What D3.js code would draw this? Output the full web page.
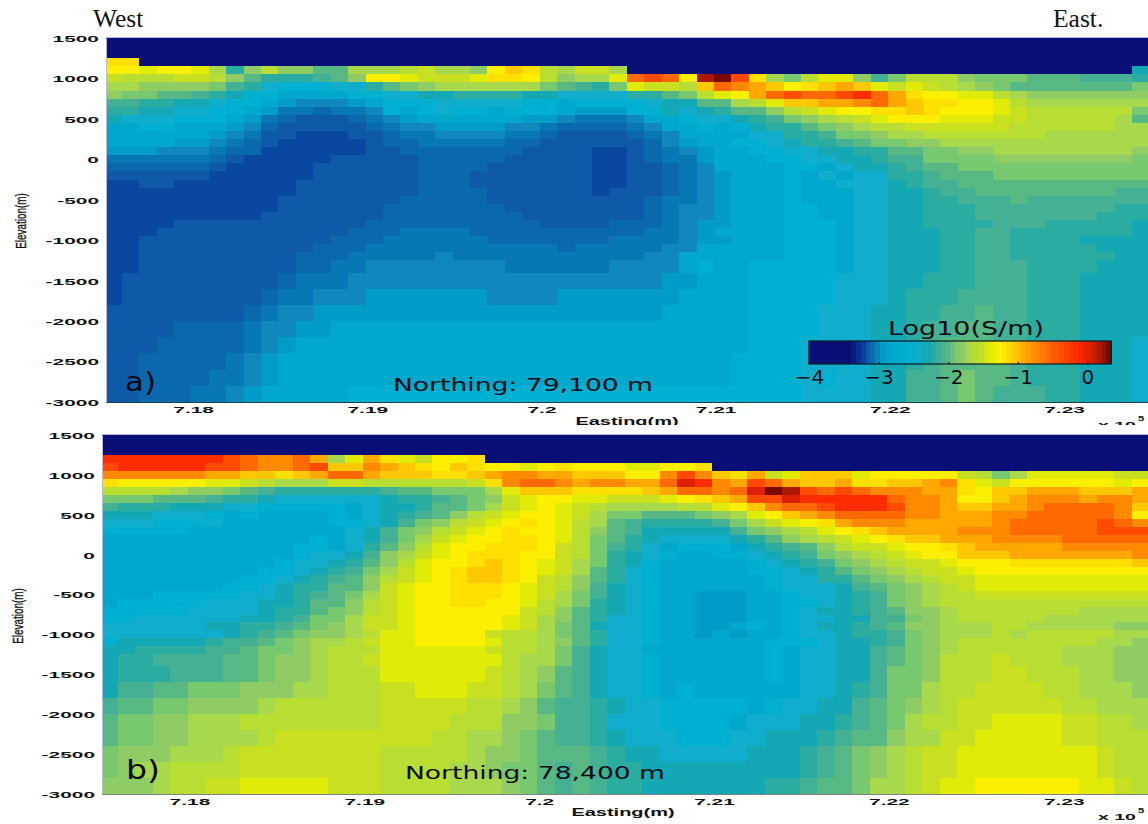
<!DOCTYPE html>
<html>
<head>
<meta charset="utf-8">
<script src="https://cdn.jsdelivr.net/npm/d3@7"></script>
<style>html,body{margin:0;padding:0;background:#fff}svg{display:block}</style>
</head>
<body>
<div id="chart"></div>
<script>
// log10 conductivity levels: one letter per level
const levelKeys = "ABCDEFGHIJKLMNOPQRSTUVWXYZabcde";
const levelValues = [-4,-3.2,-3.15,-3.1,-3.05,-3,-2.95,-2.85,-2.6,-2.45,-2.3,-2.2,-2.1,-2,-1.9,-1.8,-1.7,-1.6,-1.5,-1.4,-1.25,-1.15,-1.05,-0.9,-0.75,-0.55,-0.35,-0.15,0.05,0.18,0.3];
const levelColors = ["#0a0f78","#0848a0","#0e5aa8","#0a68ac","#0878b4","#1088bc","#009cc8","#00a8cc","#00b0d0","#10aecc","#14a8b4","#2aaca0","#44b094","#58b884","#78c870","#90cc64","#a8d84c","#b8de34","#c8e020","#e0ec08","#fcf000","#ffe000","#ffc800","#ffa800","#ff8a00","#ff6a00","#ff4a00","#ff2c00","#dc2000","#aa1800","#7a0a00"];

// model cell edges
const eastingEdges = [717500,717590,717690,717790,717890,717990,718090,718190,718290,718390,718490,718590,718690,718790,718890,718990,719090,719190,719290,719390,719490,719590,719690,719790,719890,719990,720090,720190,720290,720390,720490,720590,720690,720790,720890,720990,721090,721190,721290,721390,721490,721590,721690,721790,721890,721990,722090,722190,722290,722390,722490,722590,722690,722790,722890,722990,723090,723190,723290,723390,723482];
const elevationEdges = [1250,1150,1050,950,850,750,650,550,450,350,250,150,50,-50,-150,-250,-350,-450,-550,-650,-750,-850,-950,-1050,-1150,-1250,-1400,-1600,-1800,-2000,-2200,-2400,-2600,-2800,-3000];

const rowsA = [
"VVAAAAAAAA AAAAAAAAAA AAAAAAAAAA AAAAAAAAAA AAAAAAAAAA AAAAAAAAAA",
"UUTUUTQLPR PPNNQQQRSQ QPUWVRQSSQ AAAAAAAAAA AAAAAAAAAA AAAAAAAAAK",
"SRRRSSRPNL LLMNPUUTSS STVVURPQQT ZaZUdeaVQO RTTPMORRRP OOONNNMMML",
"QQPPPPOMLJ IIIJJLNOPQ QQQQQONMLO TSSRWZYXWU VWXWTSTSRQ PONNNNNNNO",
"POONNMLKII HHHHIIJJKK LLLLKKJJJJ LLNORTUXZa ZZabZXVUUT TRQPPPPPPP",
"MMLLKKJIIH GFFFGHIIIJ JJJJIIHIII IJKKNNQRTW WXXYZXWVVU UTRQQQQQQQ",
"LLKKJJIIHG EEDEEFIHIJ IIHIIIHGGG IIKJKLNNPR STUUVVWVUU UTSRRRRRRO",
"KJJJIIIHGE DCCCDEFGHH HHHHGGFEEE FHHIJJKLMO PQRSTUUUTT TSSRRRRRQN",
"HHIIHHHGFD CCCCCDEFFG GGGFFEDDDD EFHHIHIKLL NOPQRRSSSS SSRRRRRRQQ",
"HHHHHHGFEC CBBBCCDEEF FFFEEDCCCC DEFHHHHJJL LMOOPQQRRR RRRRQQQQQQ",
"HHHHGGFEDC BBBBBCDDEE EEEDDCCCCC CDFGHHIIJK LLMNOOPPQQ QQQQQQQQQQ",
"GGGFFFEDDB BBBBBCCDDD DDDDCCCCBB CDEFGHHIIJ JKKLLNNOOP PQQQQQQQQP",
"EEEEEEDCBB BBBCCCCCDD DDDCCCCCBB CDEEGHHHII JJKKLMMOOO OPPPPPPPPO",
"DDDDDDCBBB BBCCCCCCDD DDCCCCCCBB CCDEFHHHHI IHJKKLMNNO OOOOOOOOOO",
"CCCCCCBBBB BBCCCCCCDD DCCCCCCCBB CCDEFGHHHI HJHJJLLMNN NOOOOOOOOO",
"BBCCBBBBBB BCCCCCCCDD DCCCCCCCBB CCDEFGHHHI HHJJJKLMMN NNNNNNNNNN",
"BBBBBBBBBB BCCCCCCCDD DDCCCCCCBC CCDEFGHHHI HHHJJKKLMM NNNNNNNNMM",
"BBBBBBBBBB CCCCCCCDDD DDCCCCCCCC CDEEFGHHHI HHHJJKKLLM MMNMMMMMMM",
"BBBBBBBBBB CCCCCCDDDD DDDCCCCCCC CDEFFGHHHI IHHJJKKLLL MMMMMMMMLL",
"BBBBBBBBBC CCCCCCDDDD DDDDCCCCCC CDEFFGHHHI IHHJJKKLLL MMMMMMMLLL",
"BBBBCCCCCC CCCCCDDDDD DDDDDCCCCD DDEFGGHHHI IIHJJKKLLL LMMMLLLLLK",
"BBBCCCCCCC CCCCDDDEEE EDDDDDDDDD DEEFGHHHHI IIHJJKKKLL MMLLLLLLLK",
"BBCCCCCCCC CCCDDDEEEE EEDDDDDDDE EEEFGGHHHI IIHJJKKKLL MMLLLLKKKK",
"BBCCCCCCCC CCDDDEEEEE EEEEEEDEEE EEFFHHHHHI IIHJJKKKLL MMLLLLLKKK",
"BBCCCCCCCC CDDDEEEEEF EEEEEEEEEE EFFHHHHHHI IIHJJKKKLL MMLLLLLLKK",
"BBCCCCCCCC CDDEEFFFFF FFFEEEEEEF FFFHIHHIII IIHJJKKKLL MMMLLLLKKK",
"BCCCCCCCCC DEEEFFFFFF FFFFFFFFFF FFGGHHHIII IIJJJKKLLL MMMLLLKKKK",
"BCCCCCCCCD EEFFFGGGGG GGFFFFGGGG GGGHHHHIII IIJJJKLLLM MMMLLLKKKK",
"CCCCCCCCDE FFGGGGGGGG GGGGGGGGGG GGHHHHHIII IJJJKKLLMM NMMLLLKKKK",
"CCCCDDDDEF FGGHHHHHHH HHHHHHHHHH HHHHHHHIII IJJJKKLMMN NMMLLLKKKK",
"CCCDDDDDEF GHHHHHHHHH HHHHHHHHHH HHHHHHHIII JJJJKKLMNN NMMLLLKKKJ",
"CCDDDDDEFG HHHHHHHHHH HHHHHHHHHH HHHHHHIIII JJJJKKLMNN NNMLLLKKKJ",
"CCDDDDEEFG HHHHHHHHHH HHHHHHHHHH HHHHHHIIII JIJJKKMMNO NNMLLLKKKJ",
"CCDDDEEFGH HHHHIIIIII IIIIIIIIII IIIIIIIIII JJJJKKMMNO NMMMLLKKKJ"
];

const rowsB = [
"bbbbbbbaZY YZXQTXVTSU UVAAAAAAAA AAAAAAAAAA AAAAAAAAAA AAAAAAAAAA",
"abbbbbaaZY YZaWWYXWVU WVUUTUVUUU TTUUVAAAAA AAAAAAAAAA AAAAAAAAAA",
"YYYYYYXXWW VWXZZXWWWV VWXYYXXWWW UUYaYWVXST WWWTUUUUUS ROQTTTTTSS",
"VUUUUUTTSR QQQSSRRRRR RSVYZZYXYY XXZcbYXaZX WWXVVWWXYV TSUUUUUUTU",
"RRRRQPPONM LLLLLLMNNO OOQTWWWVVV VWXZZYZced aZaZYYYXXV UWWXXXWWWX",
"OOONNNMLLK JJJJJJKLLM NOPSTUUTTS SSTUVWXaac bbbbbZYYXU UWXYYYXYYX",
"MLLLKKKJJI IIIIHJKKLN NOQSTUTSRQ QQQRRTUWYZ ZabbbaYYXW WXXYZZZZYW",
"KKKJJJIHIH HHHIHJKLMN PRSTUUTSQO ONNNOPQTUW XYZZZZYYXX XYYZZZZZYU",
"JJJIIIJHHH HHHIIJKMOP RSTUVUTRQN MLLLLMOQST UVXYYYXXXX XYZZZZZaZY",
"IIIIIHHHHH HHHHJKMOPR STUVUUTRPN MKKKKKMOPQ RTUVWXXXXY YYZZZZZaaa",
"HHHHHHHHHH HHIHJKMOQS TUUVVUTRON LKJJJJKLNP QRSTUVWWXX XYYYYZZZZZ",
"HHHHHHHHHH HIIHJLNPRT UUVVVUSROM LJHIIIHKLM NPRSSTUUVW XXXXXYYYYY",
"HHHHHHHHHH HIJJKMPQST UVVVUUSROL KJIHHIIJKL MOPQRSTUUW WWXXXXXXXY",
"HHHHHHHHHH IJJKLNPRTU UVWVUTSQOL KIHHHHHIJK LMOPQRSSTU UUVVVVVVVW",
"HHHHHHHHHI IJKLMOQSTU VWWVUTSQNL JIHHHHHIIJ KLNOPQRSST UUUUUUUUUU",
"HHHHHHHHII JKLMNPRSTU VWWVUSRPNL JIHHHHHHIJ JLLNOPQRSS TTTTTTTTTT",
"HHHHHHHIIJ KLLNNPSTUU VVVUTSRPMK JIHHHHHHIJ JJKMNOPQRS TTTTTTTTTT",
"HHHIIIIIJJ KLMNOQSTUU VVVUTSQOMK JIHHGGGHHI JJKLMOPQRR SSSSSSSSSS",
"HIIIIIJJJK KLNNPRSTUU VVUUTRQOLK JIHHGGGHHI IJKLMOPQRR RRRRRRRRRR",
"IIIIIJJJJK LLNOPRSTUU UUUUSRPNLK JIHHGGGHHI JKKLMNPPQR RRRRRRQQQQ",
"IIJJJJJJKK LMOOQSSTUU UUUTSQPNLJ JIHHGGGHHI JJKKMMOPQR RRRRQQQQQQ",
"JJJJJJKKLL MNOPQSSTUU UUUTSQONKJ JIHHGGHIHI JKKLMNPPQQ QRRQQQQQPP",
"JJJJJJJKLM NOPPQRTTUU UUSRRQONLJ JIHHGHGHHI JJKLLMOPQQ QRQRRRRRQQ",
"IKKKKKLMMN OPQQRSTTUU UUTRRQPNLJ JIHHHHHHII IJKKLMOPQR RRRRRRRQQP",
"KKLLLLMMNO OPQRRRTTTT TTSRRQOMKJ JHHHHHHHIH JJKKMNOPQR RRRRRQQQPP",
"KLLMMMMNNO PPQRRSTTTT TTTRQQOMKJ JIHHHHHHIH JJKKMNOPRR RSRRRQQQPP",
"KLLLMMMNNO PPQRRRTTTT TTSRQPNMKJ JIHHHHHHIH JJKKMOOPRR RSSRRRQQPP",
"KMMNNOOOPP PQQRRRSSTT TSSRQONMKJ JIHIHHHHHH JJKLMOOQRR SSSSRRQQQP",
"MNNOOPPPPQ RRRRRRSSSS SRRQPNMMLK JJIIIIIHIJ JKKMNOPQRS SSSSSRRQQQ",
"NOOPPQQQRR RRRRRRSSSS RRRPPOMMLJ JJIIIIHJJJ KKLMNOQRRS STTTTSSRRQ",
"NOOPPQQQQR SSSSSSSSSR RQQPONMMLK JJJIIIJJKK KLMNNPQQSS TTTTTSSRRR",
"OPPPQQQRSS SSSSSSRRRR RQPPONNNML KKJJJJJKKK LMNOPQRSST TTTTTTTSRR",
"OPQQRRRRSS SSSSSSRRRR QQPOONMNML LKKKKKKKKK LMNOPQRSST TTTTTTTSRR",
"PPPQRRSSTT TTTSSSRRRR QQQPONMNML LKKKKKKKLL MNNOQQRSTT UUUUUUTTSR"
];

const eastingTicks = [718000,719000,720000,721000,722000,723000];
const elevationTicks = [1500,1000,500,0,-500,-1000,-1500,-2000,-2500,-3000];
const colorbarTicks = [-4,-3,-2,-1,0];
const northingA = "Northing: 79,100 m";
const northingB = "Northing: 78,400 m";

const W = 1148, H = 824;
const svg = d3.select("#chart").append("svg").attr("width", W).attr("height", H).attr("viewBox", [0,0,W,H]);
const defs = svg.append("defs");
defs.append("clipPath").attr("id","clipTop").append("rect").attr("x",0).attr("y",0).attr("width",W).attr("height",425);

const color = d3.scaleLinear()
  .domain([levelValues[0], -3.4, ...levelValues.slice(1)])
  .range([levelColors[0], levelColors[0], ...levelColors.slice(1)])
  .clamp(true);

function decode(rows){
  const cells = [];
  rows.forEach((row, r) => {
    row.replace(/ /g,"").split("").forEach((ch, c) => {
      if (c < eastingEdges.length - 1) cells.push({r, c, v: levelValues[levelKeys.indexOf(ch)]});
    });
  });
  return cells;
}

const tickFont = "'Liberation Sans',Arial,sans-serif";
const sansFont = "'DejaVu Sans',sans-serif";

function panel(cfg){
  const x = d3.scaleLinear().domain([717500,723482]).range([cfg.left, W]);
  const y = d3.scaleLinear().domain([-3000,1500]).range([cfg.bottom, cfg.top]);
  const g = svg.append("g");
  g.append("rect").attr("x",cfg.left).attr("y",cfg.top).attr("width",W-cfg.left).attr("height",cfg.bottom-cfg.top)
    .attr("fill",color(levelValues[0]));
  g.append("g").attr("shape-rendering","crispEdges").style("filter","blur(0.5px)")
    .selectAll("rect").data(decode(cfg.rows)).join("rect")
    .attr("x",d=>x(eastingEdges[d.c]))
    .attr("width",d=>x(eastingEdges[d.c+1])-x(eastingEdges[d.c])+0.5)
    .attr("y",d=>y(elevationEdges[d.r]))
    .attr("height",d=>y(elevationEdges[d.r+1])-y(elevationEdges[d.r])+0.5)
    .attr("fill",d=>color(d.v));

  const ax = g.append("g").attr("transform",`translate(${cfg.left},0)`)
    .call(d3.axisLeft(y).tickValues(elevationTicks).tickSize(0).tickFormat(d=>String(d)));
  ax.select(".domain").attr("stroke","#b8b8d8");
  ax.selectAll("text").attr("x",0).attr("dy","0.36em").attr("text-anchor","end")
    .attr("transform","translate(-7,0) scale(2.2,1)")
    .attr("font-family",tickFont).attr("font-weight","bold").attr("font-size",9.5).attr("fill","#111");

  const bx = g.append("g").attr("transform",`translate(0,${cfg.bottom})`)
    .call(d3.axisBottom(x).tickValues(eastingTicks).tickSize(0).tickFormat(d=>d3.format(".4~f")(d/1e5)));
  bx.select(".domain").attr("stroke",cfg.bottomStroke);
  bx.selectAll("text").attr("y",0).attr("dy",0).attr("text-anchor","middle")
    .attr("transform","translate(0,11) scale(2.2,1)")
    .attr("font-family",tickFont).attr("font-weight","bold").attr("font-size",9.5).attr("fill","#111");

  g.append("line").attr("x1",cfg.left).attr("x2",W).attr("y1",cfg.top-0.5).attr("y2",cfg.top-0.5).attr("stroke","#b8b8d8");

  // axis titles
  g.append("text").text("Elevation(m)")
    .attr("transform",`translate(${cfg.ylabelX},${cfg.ylabelY}) rotate(-90) scale(0.64,1)`)
    .attr("text-anchor","middle").attr("font-family",tickFont).attr("font-size",15.5).attr("fill","#111").attr("stroke","#111").attr("stroke-width",0.35);
  const lower = g.append("g").attr("clip-path",cfg.clip ? "url(#clipTop)" : null);
  lower.append("text").text("Easting(m)")
    .attr("transform",`translate(${cfg.xlabelX},${cfg.xlabelY}) scale(2,1)`)
    .attr("text-anchor","middle").attr("font-family",tickFont).attr("font-weight","bold").attr("font-size",10).attr("fill","#111");
  lower.append("text").text("x 10")
    .attr("transform",`translate(1098,${cfg.expY}) scale(2.05,1)`)
    .attr("font-family",tickFont).attr("font-weight","bold").attr("font-size",9.5).attr("fill","#111");
  lower.append("text").text("5")
    .attr("transform",`translate(1138,${cfg.expY-7}) scale(1.4,1)`)
    .attr("font-family",tickFont).attr("font-weight","bold").attr("font-size",8).attr("fill","#111");

  g.append("text").text(cfg.tag).attr("x",cfg.tagX).attr("y",cfg.baseline)
    .attr("textLength",cfg.tagW).attr("lengthAdjust","spacingAndGlyphs")
    .attr("font-family",sansFont).attr("font-size",27).attr("fill","#0a0a14");
  g.append("text").text(cfg.north).attr("x",cfg.northX).attr("y",cfg.baseline)
    .attr("textLength",cfg.northW).attr("lengthAdjust","spacingAndGlyphs")
    .attr("font-family",sansFont).attr("font-size",18.5).attr("fill","#0a0a14");
}

panel({rows:rowsA,left:106,top:38,bottom:402,bottomStroke:"#1c4050",ylabelX:26,ylabelY:221,xlabelX:627,xlabelY:425,expY:428,clip:true,
  tag:"a)",tagX:125,tagW:31,north:northingA,northX:393,northW:260,baseline:391});
panel({rows:rowsB,left:102,top:435,bottom:794,bottomStroke:"#808080",ylabelX:23,ylabelY:616,xlabelX:623,xlabelY:816,expY:820,clip:false,
  tag:"b)",tagX:126,tagW:34,north:northingB,northX:405,northW:260,baseline:779});

// direction labels
svg.append("text").text("West").attr("x",93).attr("y",27).attr("font-family","'Liberation Serif',serif").attr("font-size",25.5).attr("fill","#111");
svg.append("text").text("East.").attr("x",1053).attr("y",27).attr("font-family","'Liberation Serif',serif").attr("font-size",25.5).attr("fill","#111");

// colour bar
const cb = d3.scaleLinear().domain([-4,0.34]).range([809,1111]);
const cbTop = 341, cbBottom = 364;
const cbG = svg.append("g");
const steps = d3.range(64).map(i => -4 + i*(4.34/64));
cbG.append("g").attr("shape-rendering","crispEdges").selectAll("rect").data(steps).join("rect")
  .attr("x",d=>cb(d)).attr("width",cb(-4+4.34/64)-cb(-4)+0.5).attr("y",cbTop).attr("height",cbBottom-cbTop)
  .attr("fill",d=>color(d+4.34/128));
cbG.append("rect").attr("x",809).attr("y",cbTop).attr("width",302).attr("height",cbBottom-cbTop)
  .attr("fill","none").attr("stroke","#0a1a20").attr("stroke-width",1.2);
const cbAxis = cbG.append("g").attr("transform",`translate(0,${cbBottom})`)
  .call(d3.axisBottom(cb).tickValues(colorbarTicks).tickSizeInner(-2).tickSizeOuter(0).tickPadding(0).tickFormat(d=>d===0?"0":"\u2212"+Math.abs(d)));
cbAxis.select(".domain").remove();
cbAxis.selectAll("text").attr("y",19.5).attr("dy",0).attr("font-family",sansFont).attr("font-size",20).attr("fill","#0a0a14");
cbG.append("text").text("Log10(S/m)").attr("x",888).attr("y",335)
  .attr("textLength",156).attr("lengthAdjust","spacingAndGlyphs")
  .attr("font-family",sansFont).attr("font-size",19).attr("fill","#0a0a14");
</script>
</body>
</html>
